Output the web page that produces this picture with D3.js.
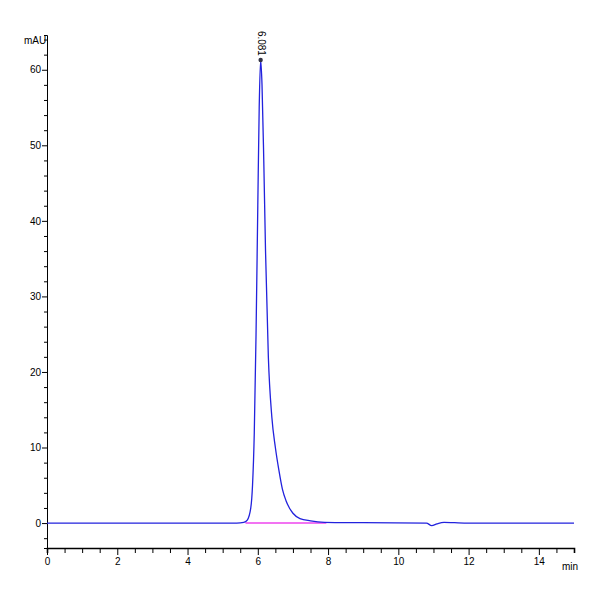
<!DOCTYPE html>
<html><head><meta charset="utf-8">
<script src="https://cdn.jsdelivr.net/npm/d3@7"></script>
<style>body{margin:0;background:#fff}text{font-family:"Liberation Sans",Arial,sans-serif}</style>
</head><body><svg id="c" width="600" height="600"></svg>
<script>
// chromatogram trace (min, mAU)
const times = [0,5.4,5.6,5.7,5.8,5.85,5.9,5.95,6.0,6.04,6.081,6.12,6.17,6.22,6.3,6.4,6.5,6.6,6.7,6.8,6.9,7.0,7.2,7.5,7.9,8.5,9,10.8,10.95,11.1,11.3,11.6,12,15];
const signal = [0,0,0.1,0.4,2,5,12,25,42,55,61.3,58,48,36,22,14,10,7,4.5,3,2,1.3,0.6,0.3,0.1,0.05,0.05,0,-0.35,-0.1,0.1,0.05,0,0];
const peakLabel = "6.081", peakTime = 6.081, peakHeight = 61.3;
const baseStart = 5.65, baseEnd = 7.95;
const xTicks = [0,2,4,6,8,10,12,14];
const yTicks = [0,10,20,30,40,50,60];

const svg = d3.select("#c");
const x = d3.scaleLinear().domain([0,15]).range([47,574]);
const y = d3.scaleLinear().domain([-3.3,64.6]).range([548,35]);

// x axis
const xa = svg.append("g").attr("transform","translate(0,548)")
  .call(d3.axisBottom(x).tickValues(d3.range(0,15.01,0.5)).tickSize(5).tickFormat(d => xTicks.includes(d) ? d : ""));
xa.select(".domain").attr("stroke-width",1.6);
xa.selectAll("text").attr("font-size",10).attr("dy","0.9em");
xa.selectAll(".tick").filter(d => xTicks.includes(d)).select("line").attr("y2",7);
svg.append("text").attr("x",562).attr("y",570).attr("font-size",10).text("min");

// y axis
const ya = svg.append("g").attr("transform","translate(47,0)")
  .call(d3.axisLeft(y).tickValues(d3.range(-2,64.1,2)).tickSize(3).tickFormat(d => yTicks.includes(d) ? d : ""));
ya.selectAll(".tick").filter(d => yTicks.includes(d)).select("line").attr("x2",-5);
ya.selectAll("text").attr("font-size",10);
svg.append("text").attr("x",24).attr("y",44).attr("font-size",10).text("mAU");

// baseline
svg.append("line").attr("x1",x(baseStart)).attr("x2",x(baseEnd)).attr("y1",y(0)).attr("y2",y(0))
  .attr("stroke","#ee44ee").attr("stroke-width",1.5);

// trace
svg.append("path").datum(times.map((t,i)=>[t,signal[i]]))
  .attr("d", d3.line().x(d=>x(d[0])).y(d=>y(d[1])).curve(d3.curveMonotoneX))
  .attr("fill","none").attr("stroke","#2222dd").attr("stroke-width",1.3);

svg.append("circle").attr("cx",x(peakTime)).attr("cy",y(peakHeight)).attr("r",2.2).attr("fill","#334");
svg.append("text").attr("transform",`translate(${x(peakTime)-3},${y(peakHeight)-4}) rotate(90)`)
  .attr("font-size",10).attr("text-anchor","end").text(peakLabel);
</script></body></html>
